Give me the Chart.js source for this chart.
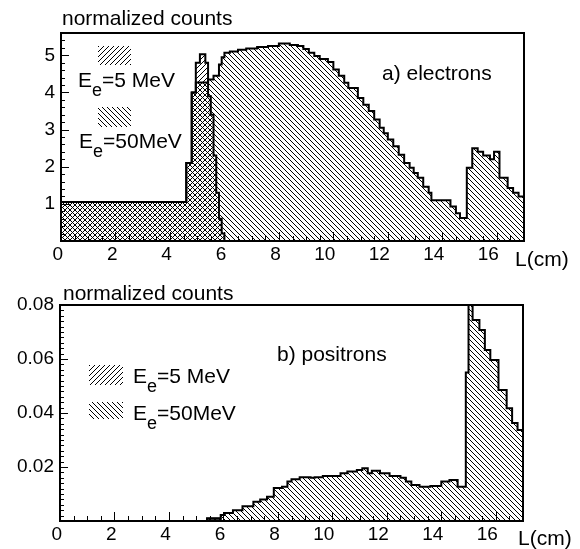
<!DOCTYPE html>
<html>
<head>
<meta charset="utf-8">
<script src="https://cdn.jsdelivr.net/npm/chart.js@4.4.0/dist/chart.umd.min.js"></script>
<style>
  body { margin: 0; background: #fff; }
  canvas { position: absolute; left: 0; }
</style>
</head>
<body>
<canvas id="elec" width="580" height="275" style="top:0"></canvas>
<canvas id="posi" width="580" height="274" style="top:275px"></canvas>
<script>
// bin edges (cm) and bin contents
const elec5Edges = [0, 4.6, 4.8, 4.95, 5.1, 5.3, 5.4, 5.5, 5.6, 5.7, 5.8, 5.9, 6.0]
const elec5Counts = [1.05, 2.1, 4.0, 4.8, 5.03, 4.8, 3.9, 3.4, 2.3, 1.3, 0.6, 0.2]

const elec50Edges = [0, 4.6, 4.8, 4.95, 5.4, 5.6, 5.8, 5.9, 6.0, 6.2, 6.5, 6.8, 7.2, 7.6, 8.0, 8.4, 8.7, 8.9, 9.1, 9.3,
    9.5, 9.8, 10.0, 10.2, 10.4, 10.55, 10.9, 11.1, 11.3, 11.5, 11.7, 11.85, 12.0, 12.2, 12.4, 12.6, 12.8, 12.95,
    13.1, 13.3, 13.5, 13.6, 14.3, 14.5, 14.65, 14.9, 15.1, 15.3, 15.5, 15.75, 15.9, 16.1, 16.4, 16.6, 16.8, 17.0]
const elec50Counts = [1.05, 2.1, 4.0, 4.27, 4.35, 4.45, 4.75, 4.95, 5.07, 5.1, 5.15, 5.18, 5.22, 5.25, 5.32, 5.28,
    5.25, 5.17, 5.07, 4.98, 4.9, 4.82, 4.62, 4.45, 4.26, 4.12, 3.85, 3.67, 3.5, 3.27, 3.05, 2.9, 2.73, 2.55, 2.32,
    2.1, 1.97, 1.83, 1.7, 1.46, 1.3, 1.1, 0.93, 0.75, 0.62, 1.97, 2.5, 2.4, 2.3, 2.2, 2.4, 1.7, 1.43, 1.3, 1.2]

const pos5Edges = [5.4, 5.9]
const pos5Counts = [0.0008]

const pos50Edges = [5.4, 5.9, 6.05, 6.35, 6.7, 7.1, 7.35, 7.6, 7.85, 8.15, 8.35, 8.5, 8.8, 9.2, 9.35, 9.65, 10.3,
    10.55, 10.9, 11.1, 11.3, 11.45, 11.75, 12.1, 12.5, 12.7, 12.9, 13.2, 13.6, 14.0, 14.3, 14.6, 14.9, 15.0, 15.15,
    15.4, 15.6, 15.8, 16.1, 16.4, 16.6, 16.8, 17.0]
const pos50Counts = [0.001, 0.0022, 0.003, 0.004, 0.0055, 0.0071, 0.008, 0.009, 0.0122, 0.0127, 0.0146, 0.0155,
    0.0162, 0.016, 0.0162, 0.0167, 0.0177, 0.0183, 0.0189, 0.0195, 0.0177, 0.0186, 0.0177, 0.0167, 0.016, 0.0146,
    0.0133, 0.0127, 0.013, 0.0146, 0.0152, 0.0127, 0.055, 0.085, 0.0744, 0.0707, 0.0633, 0.0596, 0.0485, 0.0418,
    0.0363, 0.0337]

const xLabels = [0, 2, 4, 6, 8, 10, 12, 14, 16]
const elecYLabels = [1, 2, 3, 4, 5]
const posYLabels = [0.02, 0.04, 0.06, 0.08]

const FONT = 'Liberation Sans'

// step histogram -> points for a stepped line
function histPoints(edges, counts) {
    let pts = [{x: edges[0], y: 0}]
    counts.forEach((c, i) => pts.push({x: edges[i], y: c}))
    pts.push({x: edges[edges.length - 1], y: counts[counts.length - 1]})
    pts.push({x: edges[edges.length - 1], y: 0})
    return pts
}

// 1px diagonal hatch, dir 1 = "///", -1 = "\\\"
function hatch(ctx, dir, size) {
    let tile = document.createElement('canvas')
    tile.width = tile.height = size
    let g = tile.getContext('2d')
    g.fillStyle = '#000'
    for (let i = 0; i < size; i++) {
        g.fillRect(dir > 0 ? size - 1 - i : i, i, 1, 1)
    }
    return ctx.createPattern(tile, 'repeat')
}

function drawE(ctx, x, y, rest) {
    ctx.font = '21px "' + FONT + '"'
    ctx.fillText('E', x, y)
    let w = ctx.measureText('E').width
    ctx.font = '18px "' + FONT + '"'
    ctx.fillText('e', x + w, y + 9)
    let w2 = ctx.measureText('e').width
    ctx.font = '21px "' + FONT + '"'
    ctx.fillText(rest, x + w + w2, y)
}

const rootFrame = {
    id: 'rootFrame',
    afterDraw(chart, args, o) {
        const {ctx, chartArea: a} = chart
        const xs = chart.scales.x, ys = chart.scales.y
        ctx.save()
        ctx.strokeStyle = '#000'
        ctx.lineWidth = 1
        ctx.beginPath()
        // x ticks, pointing in
        for (let v = 0; v <= xs.max + 1e-9; v += 0.5) {
            let px = Math.round(xs.getPixelForValue(v)) + 0.5
            let len = Math.abs(v % 2) < 1e-6 ? 9 : 5
            ctx.moveTo(px, a.bottom)
            ctx.lineTo(px, a.bottom - len)
        }
        // y ticks
        let n = Math.round(ys.max / o.yMinor)
        for (let i = 0; i <= n; i++) {
            let v = i * o.yMinor
            let py = Math.round(ys.getPixelForValue(v)) + 0.5
            let major = Math.abs(v / o.yMajor - Math.round(v / o.yMajor)) < 1e-6
            ctx.moveTo(a.left, py)
            ctx.lineTo(a.left + (major ? 8 : 4), py)
        }
        ctx.stroke()
        ctx.lineWidth = 2
        ctx.strokeRect(a.left, a.top, a.right - a.left, a.bottom - a.top)

        ctx.fillStyle = '#000'
        ctx.textBaseline = 'alphabetic'
        ctx.textAlign = 'left'
        ctx.font = '21px "' + FONT + '"'
        ctx.fillText('normalized counts', o.titleX, o.titleY)
        ctx.fillText(o.label, o.labelX, o.labelY)
        ctx.fillText('L(cm)', o.unitX, o.unitY)

        // legend
        o.legend.forEach(item => {
            ctx.fillStyle = item.pattern
            ctx.fillRect(item.box[0], item.box[1], item.box[2], item.box[3])
            ctx.fillStyle = '#000'
            drawE(ctx, item.tx, item.ty, item.text)
        })
        ctx.restore()
    }
}

function makeChart(id, sets, yMax, yLabels, yFmt, frameOpts, area) {
    let canvas = document.getElementById(id)
    return new Chart(canvas, {
        type: 'line',
        data: {datasets: sets},
        options: {
            responsive: false,
            animation: false,
            events: [],
            layout: {padding: {left: 0, right: canvas.width - area.right, top: area.top, bottom: 0}},
            elements: {point: {radius: 0}},
            plugins: {legend: {display: false}, tooltip: {enabled: false}, rootFrame: frameOpts},
            scales: {
                x: {
                    type: 'linear', min: 0, max: 17,
                    grid: {display: false, drawTicks: false},
                    border: {display: false},
                    afterFit: s => { s.height = canvas.height - area.bottom },
                    ticks: {
                        stepSize: 2, includeBounds: false, autoSkip: false, maxRotation: 0, padding: 2,
                        align: 'end', labelOffset: 2, color: '#000',
                        font: {family: FONT, size: 19},
                        callback: v => xLabels.includes(v) ? String(v) : ''
                    }
                },
                y: {
                    type: 'linear', min: 0, max: yMax,
                    grid: {display: false, drawTicks: false},
                    border: {display: false},
                    afterFit: s => { s.width = area.left },
                    ticks: {
                        stepSize: yLabels[1] - yLabels[0], includeBounds: false, padding: 6, color: '#000',
                        font: {family: FONT, size: 19},
                        callback: v => yLabels.some(t => Math.abs(t - v) < 1e-9) ? yFmt(v) : ''
                    }
                }
            }
        },
        plugins: [rootFrame]
    })
}

window.onload = function () {
    let ectx = document.getElementById('elec').getContext('2d')
    let pctx = document.getElementById('posi').getContext('2d')
    let e5 = hatch(ectx, 1, 5), e50 = hatch(ectx, -1, 5)
    let p5 = hatch(pctx, 1, 5), p50 = hatch(pctx, -1, 5)

    makeChart('elec', [
        {label: 'Ee=50MeV', data: histPoints(elec50Edges, elec50Counts), stepped: 'before',
            borderColor: '#000', borderWidth: 2, fill: 'origin', backgroundColor: e50},
        {label: 'Ee=5 MeV', data: histPoints(elec5Edges, elec5Counts), stepped: 'before',
            borderColor: '#000', borderWidth: 2, fill: 'origin', backgroundColor: e5}
    ], 5.6, elecYLabels, v => String(v), {
        yMinor: 0.2, yMajor: 1,
        titleX: 62, titleY: 25, label: 'a) electrons', labelX: 382, labelY: 80, unitX: 515, unitY: 266,
        legend: [
            {pattern: e5, box: [98, 46, 33, 19], tx: 78, ty: 87, text: '=5 MeV'},
            {pattern: e50, box: [98, 107, 33, 20], tx: 79, ty: 148, text: '=50MeV'}
        ]
    }, {left: 61, right: 524, top: 33, bottom: 241})

    makeChart('posi', [
        {label: 'Ee=50MeV', data: histPoints(pos50Edges, pos50Counts), stepped: 'before',
            borderColor: '#000', borderWidth: 2, fill: 'origin', backgroundColor: p50},
        {label: 'Ee=5 MeV', data: histPoints(pos5Edges, pos5Counts), stepped: 'before',
            borderColor: '#000', borderWidth: 2, fill: 'origin', backgroundColor: p5}
    ], 0.08, posYLabels, v => v.toFixed(2), {
        yMinor: 0.002, yMajor: 0.02,
        titleX: 63, titleY: 25, label: 'b) positrons', labelX: 277, labelY: 86, unitX: 518, unitY: 270,
        legend: [
            {pattern: p5, box: [89, 90, 34, 20], tx: 133, ty: 108, text: '=5 MeV'},
            {pattern: p50, box: [89, 127, 34, 17], tx: 133, ty: 145, text: '=50MeV'}
        ]
    }, {left: 60, right: 523, top: 30, bottom: 246})
}
</script>
</body>
</html>
